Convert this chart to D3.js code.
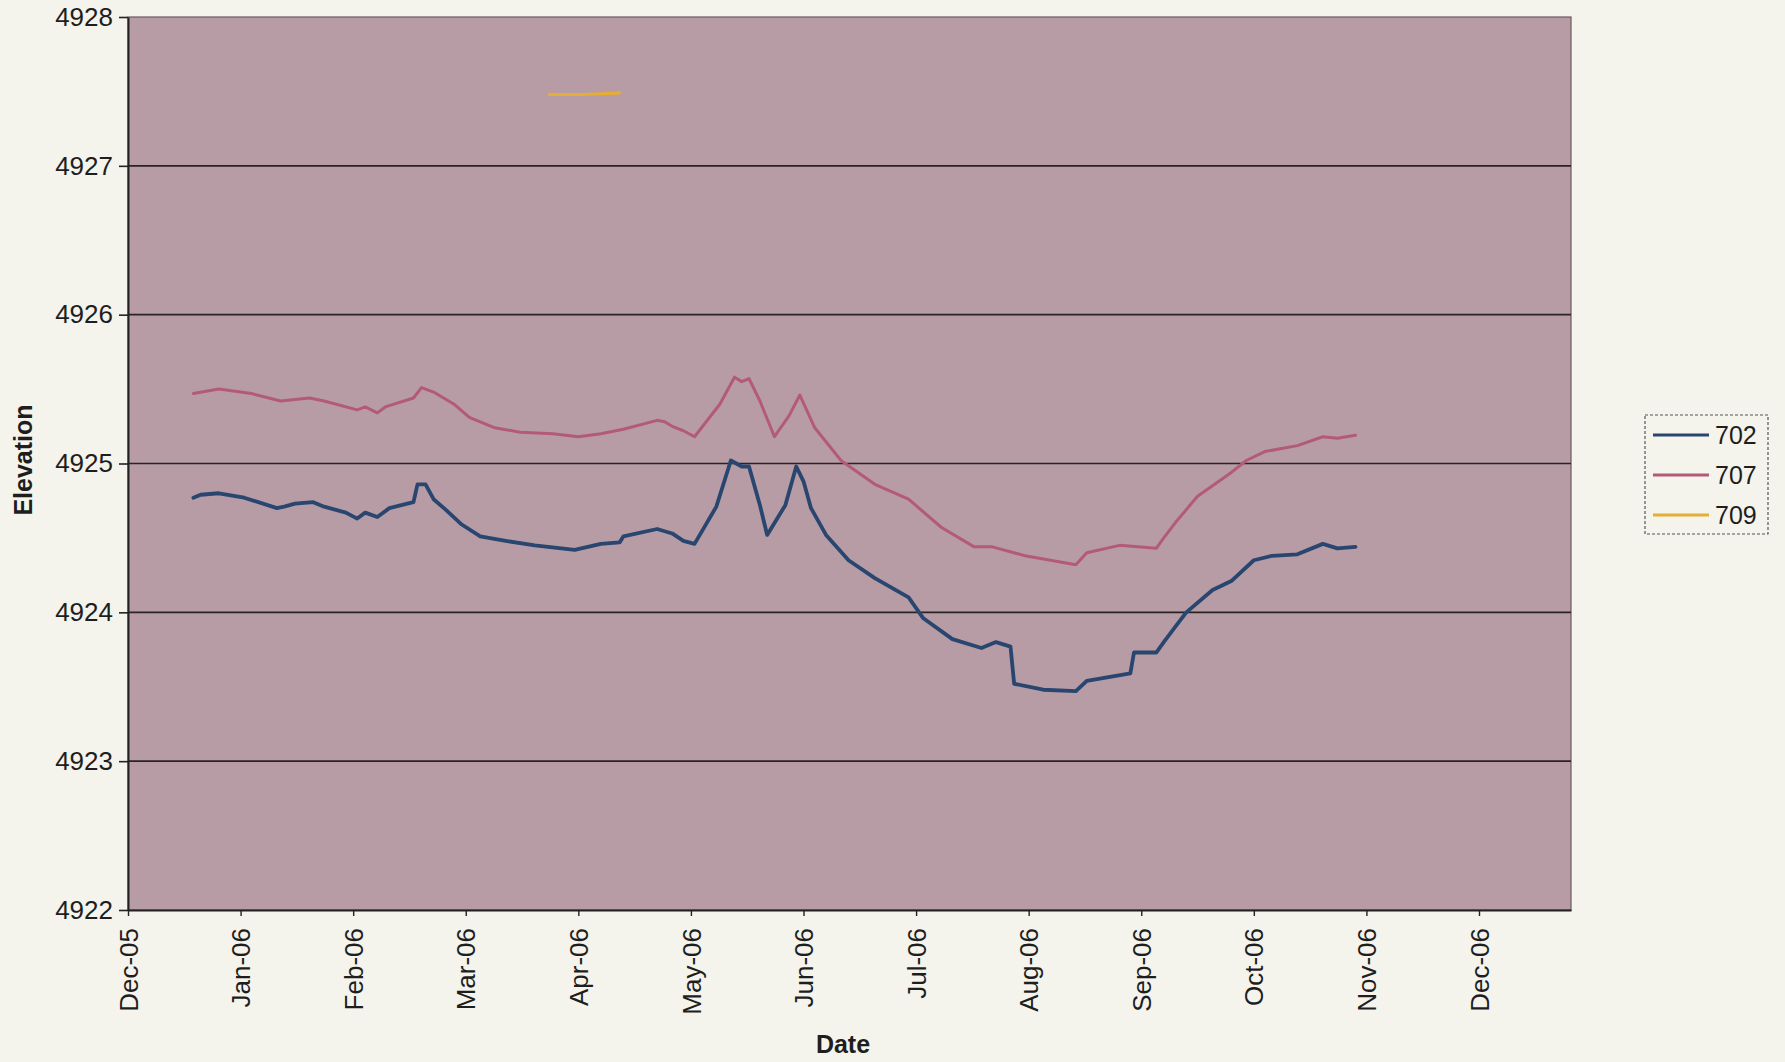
<!DOCTYPE html>
<html>
<head>
<meta charset="utf-8">
<script src="https://cdn.jsdelivr.net/npm/d3@7"></script>
<style>
  html, body { margin: 0; padding: 0; background: #f4f3ec; }
  svg { display: block; font-family: "Liberation Sans", Arial, sans-serif; }
</style>
</head>
<body>
<svg id="chart" width="1785" height="1062"></svg>
<script>
// ---------- data ----------
const monthTicks = ["2005-12-01","2006-01-01","2006-02-01","2006-03-01","2006-04-01","2006-05-01","2006-06-01","2006-07-01","2006-08-01","2006-09-01","2006-10-01","2006-11-01","2006-12-01"];
const axisEnd = "2006-12-26";
const yTicks = [4922, 4923, 4924, 4925, 4926, 4927, 4928];
const seriesNames = ["702", "707", "709"];
const seriesColors = ["#28466f", "#b45a79", "#e6ae33"];

const dates702 = ["2005-12-19","2005-12-21","2005-12-26","2006-01-02","2006-01-11","2006-01-13","2006-01-16","2006-01-21","2006-01-24","2006-01-30","2006-02-02","2006-02-04","2006-02-07","2006-02-10","2006-02-16","2006-02-17","2006-02-19","2006-02-21","2006-02-24","2006-02-28","2006-03-05","2006-03-12","2006-03-20","2006-03-31","2006-04-07","2006-04-12","2006-04-13","2006-04-22","2006-04-26","2006-04-29","2006-05-02","2006-05-08","2006-05-12","2006-05-15","2006-05-17","2006-05-20","2006-05-22","2006-05-27","2006-05-30","2006-06-01","2006-06-03","2006-06-07","2006-06-13","2006-06-20","2006-06-29","2006-07-03","2006-07-11","2006-07-19","2006-07-23","2006-07-27","2006-07-28","2006-08-05","2006-08-14","2006-08-17","2006-08-29","2006-08-30","2006-09-05","2006-09-07","2006-09-10","2006-09-13","2006-09-20","2006-09-25","2006-10-01","2006-10-06","2006-10-13","2006-10-20","2006-10-24","2006-10-29"];
const values702 = [4924.77,4924.79,4924.80,4924.77,4924.70,4924.71,4924.73,4924.74,4924.71,4924.67,4924.63,4924.67,4924.64,4924.70,4924.74,4924.86,4924.86,4924.76,4924.69,4924.59,4924.51,4924.48,4924.45,4924.42,4924.46,4924.47,4924.51,4924.56,4924.53,4924.48,4924.46,4924.71,4925.02,4924.98,4924.98,4924.72,4924.52,4924.72,4924.98,4924.88,4924.70,4924.52,4924.35,4924.23,4924.10,4923.96,4923.82,4923.76,4923.80,4923.77,4923.52,4923.48,4923.47,4923.54,4923.59,4923.73,4923.73,4923.80,4923.90,4924.00,4924.15,4924.21,4924.35,4924.38,4924.39,4924.46,4924.43,4924.44];

const dates707 = ["2005-12-19","2005-12-26","2006-01-04","2006-01-12","2006-01-20","2006-01-24","2006-02-02","2006-02-04","2006-02-07","2006-02-09","2006-02-16","2006-02-18","2006-02-21","2006-02-26","2006-03-02","2006-03-09","2006-03-16","2006-03-25","2006-04-01","2006-04-07","2006-04-13","2006-04-22","2006-04-24","2006-04-26","2006-04-29","2006-05-02","2006-05-09","2006-05-13","2006-05-15","2006-05-17","2006-05-20","2006-05-24","2006-05-28","2006-05-31","2006-06-04","2006-06-11","2006-06-20","2006-06-29","2006-07-08","2006-07-17","2006-07-22","2006-07-31","2006-08-07","2006-08-14","2006-08-17","2006-08-26","2006-09-05","2006-09-07","2006-09-10","2006-09-16","2006-09-25","2006-09-29","2006-10-04","2006-10-13","2006-10-20","2006-10-24","2006-10-29"];
const values707 = [4925.47,4925.50,4925.47,4925.42,4925.44,4925.42,4925.36,4925.38,4925.34,4925.38,4925.44,4925.51,4925.48,4925.40,4925.31,4925.24,4925.21,4925.20,4925.18,4925.20,4925.23,4925.29,4925.28,4925.25,4925.22,4925.18,4925.40,4925.58,4925.55,4925.57,4925.42,4925.18,4925.32,4925.46,4925.24,4925.02,4924.86,4924.76,4924.57,4924.44,4924.44,4924.38,4924.35,4924.32,4924.40,4924.45,4924.43,4924.50,4924.60,4924.78,4924.94,4925.02,4925.08,4925.12,4925.18,4925.17,4925.19];

const dates709 = ["2006-03-24","2006-04-02","2006-04-12"];
const values709 = [4927.48,4927.48,4927.49];

// ---------- layout ----------
const W = 1785, H = 1062;
const plot = { left: 128, right: 1571, top: 17, bottom: 910 };
const parse = d3.utcParse("%Y-%m-%d");

const svg = d3.select("#chart");
svg.append("rect").attr("width", W).attr("height", H).attr("fill", "#f4f3ec");

// x: months are equally spaced on the reference axis
const monthDates = monthTicks.map(parse);
const monthStep = (1479 - plot.left) / 12;
const xDomain = monthDates.concat([parse(axisEnd)]);
const xRange = monthDates.map((d, i) => plot.left + i * monthStep).concat([plot.right]);
const x = d3.scaleUtc().domain(xDomain).range(xRange);
const y = d3.scaleLinear().domain([4922, 4928]).range([plot.bottom, plot.top]);

// plot background
svg.append("rect")
  .attr("x", plot.left).attr("y", plot.top)
  .attr("width", plot.right - plot.left).attr("height", plot.bottom - plot.top)
  .attr("fill", "#b79ca5")
  .attr("stroke", "#6a5a5e").attr("stroke-width", 1.2);

// gridlines
svg.append("g")
  .selectAll("line")
  .data(yTicks.filter(v => v > 4922 && v < 4928))
  .join("line")
  .attr("x1", plot.left).attr("x2", plot.right)
  .attr("y1", d => y(d)).attr("y2", d => y(d))
  .attr("stroke", "#2a2324").attr("stroke-width", 1.6);

// y axis
const yAxis = svg.append("g")
  .attr("transform", `translate(${plot.left},0)`)
  .call(d3.axisLeft(y).tickValues(yTicks).tickFormat(d3.format("d")).tickSize(9).tickSizeOuter(0).tickPadding(6));
yAxis.select(".domain").attr("stroke", "#222").attr("stroke-width", 2);
yAxis.selectAll(".tick line").attr("stroke", "#222").attr("stroke-width", 1.6);
yAxis.selectAll(".tick text")
  .attr("font-size", 26).attr("fill", "#1e1e1e")
  .attr("font-family", "Liberation Sans, Arial, sans-serif");

// x axis
const xAxis = svg.append("g")
  .attr("transform", `translate(0,${plot.bottom})`)
  .call(d3.axisBottom(x).tickValues(monthDates).tickFormat(d3.utcFormat("%b-%y")).tickSize(6).tickSizeOuter(0).tickPadding(0));
xAxis.select(".domain").attr("stroke", "#222").attr("stroke-width", 2);
xAxis.selectAll(".tick line").attr("stroke", "#222").attr("stroke-width", 1.4);
xAxis.selectAll(".tick text")
  .attr("font-size", 26).attr("fill", "#1e1e1e")
  .attr("font-family", "Liberation Sans, Arial, sans-serif")
  .attr("text-anchor", "end")
  .attr("dy", "0.35em")
  .attr("transform", "translate(0,18) rotate(-90)")
  .attr("x", 0).attr("y", 0);

// axis titles
svg.append("text")
  .attr("x", 843).attr("y", 1053)
  .attr("text-anchor", "middle")
  .attr("font-size", 25).attr("font-weight", "bold").attr("fill", "#1e1e1e")
  .text("Date");
svg.append("text")
  .attr("transform", "translate(23,460) rotate(-90)")
  .attr("text-anchor", "middle").attr("dy", "0.35em")
  .attr("font-size", 25).attr("font-weight", "bold").attr("fill", "#1e1e1e")
  .text("Elevation");

// series
const series = [
  { name: seriesNames[0], color: seriesColors[0], width: 3.8, pts: dates702.map((d, i) => [parse(d), values702[i]]) },
  { name: seriesNames[1], color: seriesColors[1], width: 3.0, pts: dates707.map((d, i) => [parse(d), values707[i]]) },
  { name: seriesNames[2], color: seriesColors[2], width: 3.0, pts: dates709.map((d, i) => [parse(d), values709[i]]) }
];
const line = d3.line().x(d => x(d[0])).y(d => y(d[1]));
svg.append("g")
  .selectAll("path")
  .data(series)
  .join("path")
  .attr("d", d => line(d.pts))
  .attr("fill", "none")
  .attr("stroke", d => d.color)
  .attr("stroke-width", d => d.width)
  .attr("stroke-linejoin", "round")
  .attr("stroke-linecap", "round");

// legend
const lg = svg.append("g");
lg.append("rect")
  .attr("x", 1645).attr("y", 415).attr("width", 123).attr("height", 119)
  .attr("fill", "none").attr("stroke", "#555").attr("stroke-width", 1.2)
  .attr("stroke-dasharray", "3,2");
const items = lg.selectAll("g.item").data(series).join("g").attr("class", "item")
  .attr("transform", (d, i) => `translate(0,${435 + i * 40})`);
items.append("line")
  .attr("x1", 1653).attr("x2", 1709).attr("y1", 0).attr("y2", 0)
  .attr("stroke", d => d.color).attr("stroke-width", 3.2);
items.append("text")
  .attr("x", 1715).attr("y", 0).attr("dy", "0.36em")
  .attr("font-size", 25).attr("fill", "#1e1e1e")
  .text(d => d.name);
</script>
</body>
</html>
